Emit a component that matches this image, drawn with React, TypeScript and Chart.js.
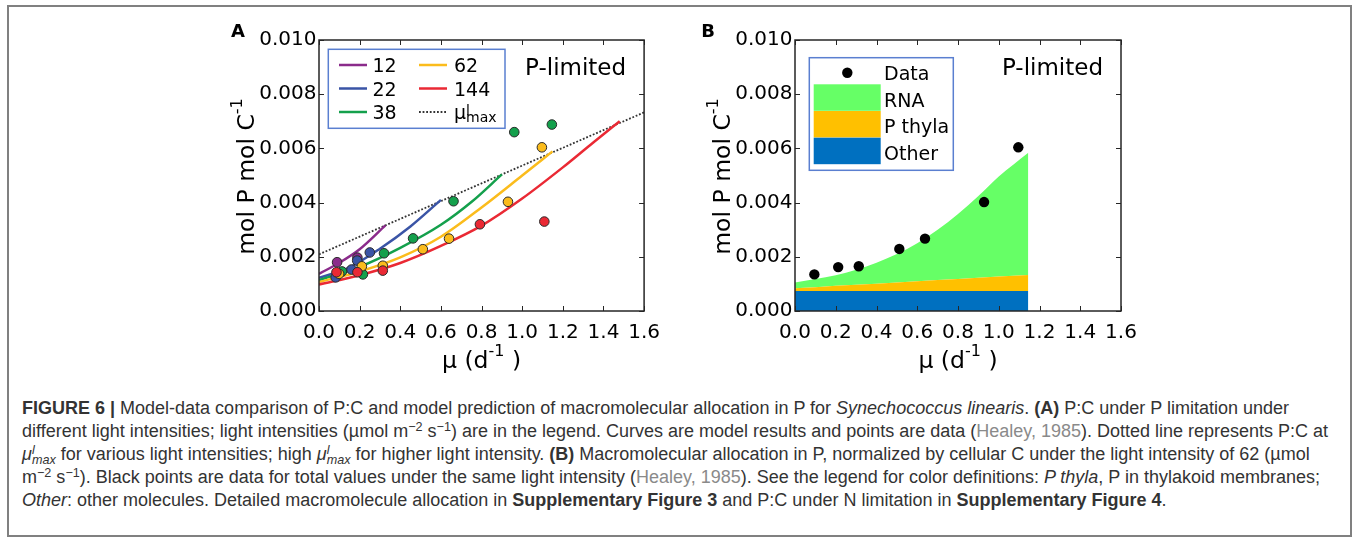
import React, { useEffect, useRef } from 'react';
import { Chart, registerables } from 'chart.js';

Chart.register(...registerables);

const AXIS_FONT = "'DejaVu Sans', 'Bitstream Vera Sans', sans-serif";
const CAPTION_FONT = "'Liberation Sans', Arial, Helvetica, sans-serif";
const FRAME_COLOR = '#262626';
const LEGEND_BORDER = '#5a7fd0';

// ---- axes ----
const X_TICKS = [0, 0.2, 0.4, 0.6, 0.8, 1.0, 1.2, 1.4, 1.6];
const X_TICK_LABELS = ['0.0', '0.2', '0.4', '0.6', '0.8', '1.0', '1.2', '1.4', '1.6'];
const Y_TICKS = [0, 0.002, 0.004, 0.006, 0.008, 0.01];
const Y_TICK_LABELS = ['0.000', '0.002', '0.004', '0.006', '0.008', '0.010'];

// ---- panel A: light levels (µmol m-2 s-1) ----
const LIGHT_LEVELS = ['12', '22', '38', '62', '144'];
const LIGHT_COLORS = ['#8b2b8b', '#3a54a6', '#14a04c', '#fbbc1c', '#ea2934'];

// model curves
const CURVE12_X = [0, 0.1, 0.2, 0.327];
const CURVE12_Y = [0.00137, 0.00178, 0.00228, 0.00316];
const CURVE22_X = [0, 0.15, 0.3, 0.45, 0.6];
const CURVE22_Y = [0.00122, 0.00161, 0.0023, 0.00312, 0.0041];
const CURVE38_X = [0, 0.2, 0.4, 0.6, 0.75, 0.9];
const CURVE38_Y = [0.00114, 0.00163, 0.00233, 0.00318, 0.00402, 0.00504];
const CURVE62_X = [0, 0.2, 0.4, 0.6, 0.8, 1.0, 1.149];
const CURVE62_Y = [0.00107, 0.00146, 0.00198, 0.00274, 0.00382, 0.005, 0.00589];
const CURVE144_X = [0, 0.2, 0.4, 0.6, 0.8, 1.0, 1.2, 1.35, 1.48];
const CURVE144_Y = [0.00098, 0.00132, 0.00177, 0.0024, 0.00315, 0.00415, 0.0053, 0.00622, 0.007];

// P:C at mu_max^l (dotted)
const MUMAX_X = [0, 0.4, 0.8, 1.2, 1.6];
const MUMAX_Y = [0.00209, 0.0034, 0.00471, 0.00602, 0.00733];

// data points (Healey 1985)
const DATA12_X = [0.089, 0.189];
const DATA12_Y = [0.0018, 0.00197];
const DATA22_X = [0.082, 0.16, 0.188, 0.25];
const DATA22_Y = [0.00124, 0.00153, 0.00186, 0.00216];
const DATA38_X = [0.113, 0.216, 0.32, 0.463, 0.662, 0.961, 1.146];
const DATA38_Y = [0.00146, 0.00135, 0.00213, 0.00268, 0.00405, 0.0066, 0.00688];
const DATA62_X = [0.099, 0.211, 0.314, 0.511, 0.64, 0.93, 1.097];
const DATA62_Y = [0.00137, 0.00165, 0.00167, 0.00228, 0.00267, 0.00403, 0.00604];
const DATA144_X = [0.086, 0.189, 0.314, 0.792, 1.109];
const DATA144_Y = [0.00143, 0.00143, 0.00149, 0.0032, 0.0033];

// ---- panel B: allocation at light 62 ----
const ALLOC_LABELS = ['RNA', 'P thyla', 'Other'];
const ALLOC_COLORS = ['#66ff66', '#ffc000', '#0070c0'];
const ALLOC_X = [0, 0.1, 0.2, 0.3, 0.4, 0.5, 0.6, 0.7, 0.8, 0.9, 1.0, 1.145];
const OTHER_P = [0.00074, 0.00074, 0.00074, 0.00074, 0.00074, 0.00074, 0.00074, 0.00074, 0.00074, 0.00074, 0.00074, 0.00074];
const THYLA_P = [0.0001, 0.00014, 0.00019, 0.00023, 0.00027, 0.00031, 0.00036, 0.0004, 0.00044, 0.00049, 0.00053, 0.00059];
const RNA_P = [0.00021, 0.0003, 0.00039, 0.00055, 0.00077, 0.00105, 0.0014, 0.00186, 0.0024, 0.00301, 0.00369, 0.00451];
const B_DATA_X = [0.095, 0.212, 0.313, 0.512, 0.638, 0.928, 1.096];
const B_DATA_Y = [0.00135, 0.00162, 0.00165, 0.00229, 0.00267, 0.00402, 0.00604];

const zip = (xs: number[], ys: number[]) => xs.map((x, i) => ({ x, y: ys[i] }));

type Part = { t: string; size: number; dy?: number; style?: string; back?: boolean };

function drawRich(ctx: CanvasRenderingContext2D, parts: Part[], x: number, y: number, align: 'left' | 'center') {
  const widths = parts.map((p) => {
    ctx.font = `${p.style || ''} ${p.size}px ${AXIS_FONT}`;
    return ctx.measureText(p.t).width;
  });
  let total = 0;
  parts.forEach((p, i) => { if (!p.back) total += widths[i]; });
  let cx = align === 'center' ? x - total / 2 : x;
  let lastStart = cx;
  ctx.textAlign = 'left';
  ctx.textBaseline = 'alphabetic';
  parts.forEach((p, i) => {
    ctx.font = `${p.style || ''} ${p.size}px ${AXIS_FONT}`;
    const px = p.back ? lastStart : cx;
    ctx.fillText(p.t, px, y + (p.dy || 0));
    if (!p.back) { lastStart = cx; cx += widths[i]; }
  });
}

const Y_TITLE: Part[] = [
  { t: 'mol P mol C', size: 23.5 },
  { t: '-1', size: 16, dy: -12.5 },
];
const X_TITLE: Part[] = [
  { t: 'μ (d', size: 23.5 },
  { t: '-1', size: 16, dy: -12.5 },
  { t: ' )', size: 23.5 },
];

function makeDecor(letter: string, letterDx: number, drawLegend: (ctx: CanvasRenderingContext2D, L: number, T: number) => void) {
  return {
    id: 'decor' + letter,
    afterDraw(chart: any) {
      const { ctx, chartArea: ca, scales } = chart;
      const xs = scales.x;
      const ys = scales.y;
      ctx.save();
      // inward ticks on all four sides
      ctx.strokeStyle = FRAME_COLOR;
      ctx.lineWidth = 1;
      ctx.beginPath();
      X_TICKS.forEach((v) => {
        const px = Math.round(xs.getPixelForValue(v)) + 0.5;
        ctx.moveTo(px, ca.bottom); ctx.lineTo(px, ca.bottom - 5);
        ctx.moveTo(px, ca.top); ctx.lineTo(px, ca.top + 5);
      });
      Y_TICKS.forEach((v) => {
        const py = Math.round(ys.getPixelForValue(v)) + 0.5;
        ctx.moveTo(ca.left, py); ctx.lineTo(ca.left + 5, py);
        ctx.moveTo(ca.right, py); ctx.lineTo(ca.right - 5, py);
      });
      ctx.stroke();
      // frame
      ctx.lineWidth = 1.5;
      ctx.strokeRect(ca.left, ca.top, ca.right - ca.left, ca.bottom - ca.top);

      ctx.fillStyle = '#000';
      // axis titles
      drawRich(ctx, X_TITLE, (ca.left + ca.right) / 2, ca.bottom + 57, 'center');
      ctx.save();
      ctx.translate(ca.left - 65, (ca.top + ca.bottom) / 2 + 1);
      ctx.rotate(-Math.PI / 2);
      drawRich(ctx, Y_TITLE, 0, 0, 'center');
      ctx.restore();

      // panel letter
      ctx.font = `bold 18px ${AXIS_FONT}`;
      ctx.textAlign = 'center';
      ctx.textBaseline = 'alphabetic';
      ctx.fillText(letter, ca.left + letterDx, ca.top - 3);

      // annotation
      ctx.font = `23px ${AXIS_FONT}`;
      ctx.textAlign = 'right';
      ctx.fillText('P-limited', ca.right - 18, ca.top + 35);

      drawLegend(ctx, ca.left, ca.top);
      ctx.restore();
    },
  };
}

function legendA(ctx: CanvasRenderingContext2D, L: number, T: number) {
  ctx.fillStyle = '#fff';
  ctx.fillRect(L + 9.3, T + 9.3, 176.7, 79);
  ctx.strokeStyle = LEGEND_BORDER;
  ctx.lineWidth = 1.5;
  ctx.strokeRect(L + 9.3, T + 9.3, 176.7, 79);
  const rows = [T + 25, T + 48.5, T + 72];
  const entries = [...LIGHT_LEVELS, 'mumax'];
  entries.forEach((e, i) => {
    const col = Math.floor(i / 3);
    const row = i % 3;
    const lx = L + (col ? 100 : 20);
    const tx = L + (col ? 135 : 53.5);
    const y = rows[row];
    ctx.beginPath();
    if (e === 'mumax') {
      ctx.strokeStyle = '#333';
      ctx.lineWidth = 1.8;
      ctx.setLineDash([1.8, 1.8]);
    } else {
      ctx.strokeStyle = LIGHT_COLORS[i];
      ctx.lineWidth = 2.5;
      ctx.setLineDash([]);
    }
    ctx.moveTo(lx, y);
    ctx.lineTo(lx + 28, y);
    ctx.stroke();
    ctx.setLineDash([]);
    ctx.fillStyle = '#000';
    if (e === 'mumax') {
      drawRich(ctx, [
        { t: 'μ', size: 19 },
        { t: 'l', size: 14, dy: -4.5 },
        { t: 'max', size: 14, dy: 2.5, back: true },
      ], tx, y + 7, 'left');
    } else {
      ctx.font = `19px ${AXIS_FONT}`;
      ctx.textAlign = 'left';
      ctx.textBaseline = 'alphabetic';
      ctx.fillText(e, tx, y + 7);
    }
  });
}

function legendB(ctx: CanvasRenderingContext2D, L: number, T: number) {
  ctx.fillStyle = '#fff';
  ctx.fillRect(L + 14.3, T + 17.7, 144, 112.6);
  ctx.strokeStyle = LEGEND_BORDER;
  ctx.lineWidth = 1.5;
  ctx.strokeRect(L + 14.3, T + 17.7, 144, 112.6);
  ctx.fillStyle = '#000';
  ctx.beginPath();
  ctx.arc(L + 52.3, T + 32.7, 5.2, 0, Math.PI * 2);
  ctx.fill();
  ctx.font = `19px ${AXIS_FONT}`;
  ctx.textAlign = 'left';
  ctx.textBaseline = 'alphabetic';
  ctx.fillText('Data', L + 89, T + 32.5 + 7);
  const tops = [T + 44.3, T + 71, T + 97.7];
  const centers = [T + 59.5, T + 86, T + 113];
  ALLOC_LABELS.forEach((lab, i) => {
    ctx.fillStyle = ALLOC_COLORS[i];
    ctx.fillRect(L + 18.7, tops[i], 67, 26.5);
    ctx.fillStyle = '#000';
    ctx.fillText(lab, L + 89, centers[i] + 7);
  });
}

function makeOptions(padding: any, yAxisWidth: number, stacked: boolean) {
  const tickFont = { family: AXIS_FONT, size: 20 };
  return {
    responsive: false,
    animation: false,
    events: [],
    layout: { padding },
    plugins: { legend: { display: false }, tooltip: { enabled: false } },
    scales: {
      x: {
        type: 'linear',
        min: 0,
        max: 1.6,
        afterBuildTicks: (s: any) => { s.ticks = X_TICKS.map((v) => ({ value: v })); },
        afterFit: (s: any) => { s.height = 40; },
        grid: { display: false, drawTicks: false },
        border: { display: false },
        ticks: {
          padding: 10,
          font: tickFont,
          color: '#000',
          autoSkip: false,
          maxRotation: 0,
          minRotation: 0,
          callback: (_v: any, i: number) => X_TICK_LABELS[i],
        },
      },
      y: {
        type: 'linear',
        min: 0,
        max: 0.01,
        stacked,
        afterBuildTicks: (s: any) => { s.ticks = Y_TICKS.map((v) => ({ value: v })); },
        afterFit: (s: any) => { s.width = yAxisWidth; },
        grid: { display: false, drawTicks: false },
        border: { display: false },
        ticks: {
          padding: 2.5,
          font: tickFont,
          color: '#000',
          autoSkip: false,
          callback: (_v: any, i: number) => Y_TICK_LABELS[i],
        },
      },
    },
  };
}

function panelADatasets() {
  const curvesX = [CURVE12_X, CURVE22_X, CURVE38_X, CURVE62_X, CURVE144_X];
  const curvesY = [CURVE12_Y, CURVE22_Y, CURVE38_Y, CURVE62_Y, CURVE144_Y];
  const dataX = [DATA12_X, DATA22_X, DATA38_X, DATA62_X, DATA144_X];
  const dataY = [DATA12_Y, DATA22_Y, DATA38_Y, DATA62_Y, DATA144_Y];
  const ds: any[] = [];
  LIGHT_LEVELS.forEach((lab, i) => {
    ds.push({
      label: lab + ' data',
      data: zip(dataX[i], dataY[i]),
      showLine: false,
      pointRadius: 4.8,
      pointBackgroundColor: LIGHT_COLORS[i],
      pointBorderColor: '#2a2a2a',
      pointBorderWidth: 1,
      order: 5 - i,
    });
    ds.push({
      label: lab,
      data: zip(curvesX[i], curvesY[i]),
      borderColor: LIGHT_COLORS[i],
      borderWidth: 2.5,
      pointRadius: 0,
      fill: false,
      cubicInterpolationMode: 'monotone',
      order: 15 - i,
    });
  });
  ds.push({
    label: 'mu_max',
    data: zip(MUMAX_X, MUMAX_Y),
    borderColor: '#333',
    borderWidth: 1.8,
    borderDash: [1.8, 1.8],
    pointRadius: 0,
    fill: false,
    order: 20,
  });
  return ds;
}

function panelBDatasets() {
  const comps = [OTHER_P, THYLA_P, RNA_P];
  const colors = [ALLOC_COLORS[2], ALLOC_COLORS[1], ALLOC_COLORS[0]];
  const labels = [ALLOC_LABELS[2], ALLOC_LABELS[1], ALLOC_LABELS[0]];
  const ds: any[] = comps.map((vals, i) => ({
    label: labels[i],
    data: zip(ALLOC_X, vals),
    stack: 'model',
    borderColor: 'rgba(0,0,0,0)',
    borderWidth: 0,
    backgroundColor: colors[i],
    pointRadius: 0,
    fill: i === 0 ? 'origin' : '-1',
    cubicInterpolationMode: i === 2 ? 'monotone' : 'default',
    order: 3 + i,
  }));
  ds.push({
    label: 'Data',
    data: zip(B_DATA_X, B_DATA_Y),
    stack: 'obs',
    showLine: false,
    pointRadius: 5.2,
    pointBackgroundColor: '#000',
    pointBorderColor: '#000',
    pointBorderWidth: 0,
    order: 0,
  });
  return ds;
}

function PanelA() {
  const ref = useRef<HTMLCanvasElement>(null);
  useEffect(() => {
    const chart = new Chart(ref.current as HTMLCanvasElement, {
      type: 'line',
      data: { datasets: panelADatasets() },
      options: makeOptions({ left: 0, right: 25, top: 40, bottom: 29 }, 159, false) as any,
      plugins: [makeDecor('A', -81, legendA)],
    } as any);
    return () => chart.destroy();
  }, []);
  return <canvas ref={ref} width={510} height={380} style={{ position: 'absolute', left: 160, top: 0, width: 510, height: 380 }} />;
}

function PanelB() {
  const ref = useRef<HTMLCanvasElement>(null);
  useEffect(() => {
    const chart = new Chart(ref.current as HTMLCanvasElement, {
      type: 'line',
      data: { datasets: panelBDatasets() },
      options: makeOptions({ left: 0, right: 29, top: 40, bottom: 29 }, 115, true) as any,
      plugins: [makeDecor('B', -87, legendB)],
    } as any);
    return () => chart.destroy();
  }, []);
  return <canvas ref={ref} width={470} height={380} style={{ position: 'absolute', left: 680, top: 0, width: 470, height: 380 }} />;
}

const supStyle: React.CSSProperties = { fontSize: '0.7em', lineHeight: 0, verticalAlign: '0.45em' };
const subStyle: React.CSSProperties = { fontSize: '0.7em', lineHeight: 0, verticalAlign: '-0.3em' };
const grey: React.CSSProperties = { color: '#8a8a8a' };

function MuMax() {
  return (
    <i>
      μ<sup style={supStyle}>l</sup>
      <sub style={{ ...subStyle, marginLeft: '-0.22em' }}>max</sub>
    </i>
  );
}

function Caption() {
  const line: React.CSSProperties = { whiteSpace: 'nowrap', height: 23, lineHeight: '23px' };
  return (
    <div style={{ position: 'absolute', left: 22, top: 397, fontFamily: CAPTION_FONT, fontSize: 18, color: '#333' }}>
      <div style={line}>
        <b>FIGURE 6 |</b> Model-data comparison of P:C and model prediction of macromolecular allocation in P for <i>Synechococcus linearis</i>. <b>(A)</b> P:C under P limitation under
      </div>
      <div style={line}>
        different light intensities; light intensities (µmol m<sup style={supStyle}>−2</sup> s<sup style={supStyle}>−1</sup>) are in the legend. Curves are model results and points are data (<span style={grey}>Healey, 1985</span>). Dotted line represents P:C at
      </div>
      <div style={line}>
        <MuMax /> for various light intensities; high <MuMax /> for higher light intensity. <b>(B)</b> Macromolecular allocation in P, normalized by cellular C under the light intensity of 62 (µmol
      </div>
      <div style={line}>
        m<sup style={supStyle}>−2</sup> s<sup style={supStyle}>−1</sup>). Black points are data for total values under the same light intensity (<span style={grey}>Healey, 1985</span>). See the legend for color definitions: <i>P thyla</i>, P in thylakoid membranes;
      </div>
      <div style={line}>
        <i>Other</i>: other molecules. Detailed macromolecule allocation in <b>Supplementary Figure 3</b> and P:C under N limitation in <b>Supplementary Figure 4</b>.
      </div>
    </div>
  );
}

export default function App() {
  return (
    <div style={{ position: 'absolute', left: 0, top: 0, width: 1357, height: 542, background: '#fff', overflow: 'hidden' }}>
      <div style={{ position: 'absolute', left: 7, top: 5, width: 1345, height: 532, border: '2px solid #808080', boxSizing: 'border-box' }} />
      <PanelA />
      <PanelB />
      <Caption />
    </div>
  );
}
